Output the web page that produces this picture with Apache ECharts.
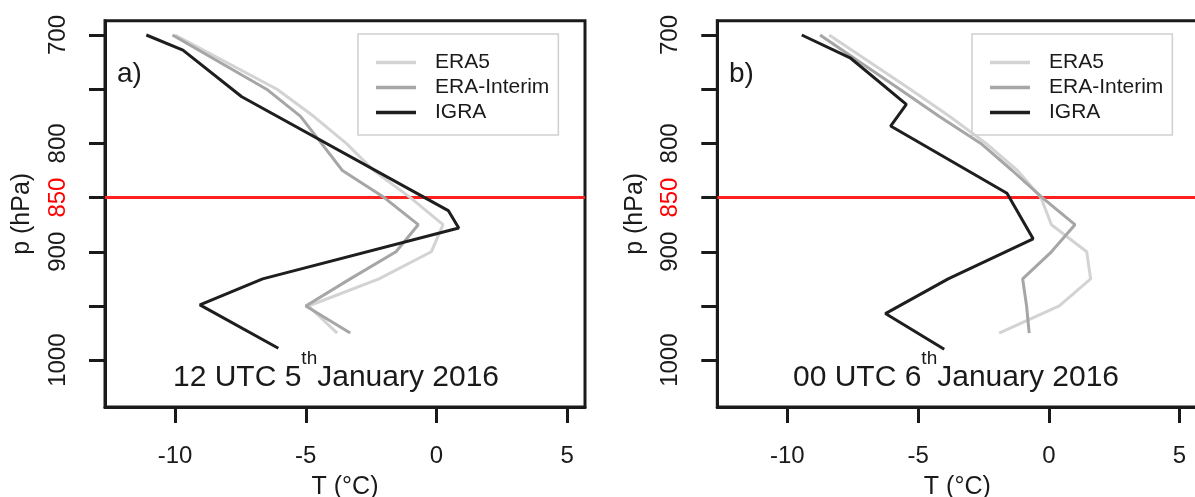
<!DOCTYPE html>
<html>
<head>
<meta charset="utf-8">
<script src="https://cdn.jsdelivr.net/npm/echarts@6/dist/echarts.min.js"></script>
<style>
  html, body { margin: 0; padding: 0; background: #fff; }
  #chart { width: 1195px; height: 497px; }
</style>
</head>
<body>
<div id="chart"></div>
<script>
var seriesNames = ['ERA5', 'ERA-Interim', 'IGRA'];
var eraLevels = [700, 750, 775, 800, 825, 850, 875, 900, 925, 950, 975];

// panel a) 12 UTC 5th January 2016
var era5A = [-10.0, -6.1, -4.7, -3.45, -2.4, -1.0, 0.25, -0.2, -2.2, -4.9, -3.8];
var eraIA = [-10.1, -6.5, -5.2, -4.4, -3.6, -2.0, -0.7, -1.55, -3.3, -5.0, -3.3];
var igraLevelsA = [700, 714, 757, 862, 878, 925, 949, 989];
var igraA = [-11.1, -9.7, -7.45, 0.45, 0.85, -6.65, -9.05, -6.05];

// panel b) 00 UTC 6th January 2016
var era5B = [-8.4, -5.3, -3.8, -2.4, -1.2, -0.3, 0.1, 1.45, 1.6, 0.4, -1.9];
var eraIB = [-8.75, -5.7, -4.2, -2.6, -1.4, -0.25, 1.0, 0.1, -1.0, -0.85, -0.75];
var igraLevelsB = [700, 721, 764, 784, 846, 888, 925, 957, 990];
var igraB = [-9.45, -7.6, -5.45, -6.05, -1.6, -0.6, -3.85, -6.25, -4.0];

var xTicks = [-10, -5, 0, 5];
var yTicks = [700, 750, 800, 850, 900, 950, 1000];
var yLabels = [700, 800, 850, 900, 1000];
var refLevel = 850;

var font = 'Liberation Sans, Arial, Helvetica, sans-serif';
var ink = '#1a1a1a';
var colors = ['#d3d3d3', '#a6a6a6', '#1e1e1e'];

function pairs(ts, ps) {
  var out = [];
  for (var i = 0; i < ts.length; i++) out.push([ts[i], ps[i]]);
  return out;
}

function makeX(g) {
  return {
    type: 'value', gridIndex: g, min: -12.68, max: 5.68,
    axisLine: { show: true, onZero: false, lineStyle: { color: ink, width: 3 } },
    axisTick: { show: true, length: 16, customValues: xTicks, lineStyle: { color: ink, width: 3 } },
    axisLabel: { customValues: xTicks, margin: 37, fontSize: 24, color: ink, fontFamily: font },
    splitLine: { show: false },
    name: 'T (°C)', nameLocation: 'middle', nameGap: 68,
    nameTextStyle: { fontSize: 25, color: ink, fontFamily: font }
  };
}

function makeY(g) {
  return {
    type: 'value', gridIndex: g, inverse: true, min: 686.8, max: 1043.2,
    axisLine: { show: true, onZero: false, lineStyle: { color: ink, width: 3 } },
    axisTick: { show: true, length: 16, customValues: yTicks, lineStyle: { color: ink, width: 3 } },
    axisLabel: {
      customValues: yLabels, rotate: 90, margin: 35, fontSize: 24, color: ink, fontFamily: font,
      formatter: function (v) { return v === refLevel ? '{r|' + v + '}' : String(v); },
      rich: { r: { color: '#ff0000', fontSize: 24, fontFamily: font } }
    },
    splitLine: { show: false },
    name: 'p (hPa)', nameLocation: 'middle', nameGap: 70,
    nameTextStyle: { fontSize: 25, color: ink, fontFamily: font }
  };
}

function makeSeries(g, e5, ei, igLev, ig) {
  var sets = [pairs(e5, eraLevels), pairs(ei, eraLevels), pairs(ig, igLev)];
  var out = [];
  for (var i = 0; i < 3; i++) {
    var s = {
      name: seriesNames[i], type: 'line', xAxisIndex: g, yAxisIndex: g,
      data: sets[i], showSymbol: false, symbol: 'none', z: 3 + i,
      color: colors[i],
      lineStyle: { color: colors[i], width: 3 },
      itemStyle: { color: colors[i] },
      animation: false
    };
    if (i === 0) {
      s.markLine = {
        silent: true, symbol: 'none', z: 1,
        label: { show: false },
        lineStyle: { color: '#ff2020', width: 3, type: 'solid' },
        data: [{ yAxis: refLevel }]
      };
    }
    out.push(s);
  }
  return out;
}

function makeLegend(left) {
  return {
    data: seriesNames, orient: 'vertical', left: left, top: 34,
    padding: [18, 9, 12, 18], itemGap: 4, itemWidth: 40, itemHeight: 3.5, icon: 'rect',
    borderColor: '#cfcfcf', borderWidth: 1.5, borderRadius: 0,
    textStyle: { fontSize: 21, lineHeight: 21, color: ink, fontFamily: font, padding: [0, 0, 0, 14] }
  };
}

// measure text so the superscript "th" can sit right after the day number
var measureCtx = document.createElement('canvas').getContext('2d');
function textWidth(str, size) {
  measureCtx.font = size + 'px Liberation Sans';
  return measureCtx.measureText(str).width;
}

function titleText(cx, pre, post) {
  var w1 = textWidth(pre, 30), ws = textWidth('th', 19), w2 = textWidth(post, 30);
  var x0 = cx - (w1 + ws + w2) / 2;
  var y = 377.5;
  var base = { fontFamily: font, fill: ink, verticalAlign: 'middle', align: 'left' };
  return [
    { type: 'text', x: x0, y: y, z: 10, style: Object.assign({ text: pre, fontSize: 30 }, base) },
    { type: 'text', x: x0 + w1, y: y - 18.5, z: 10, style: Object.assign({ text: 'th', fontSize: 19 }, base) },
    { type: 'text', x: x0 + w1 + ws, y: y, z: 10, style: Object.assign({ text: post, fontSize: 30 }, base) }
  ];
}

var chart = echarts.init(document.getElementById('chart'));
chart.setOption({
  animation: false,
  backgroundColor: '#fff',
  grid: [
    { left: 105, top: 20.7, width: 480, height: 386.3, show: true, borderColor: ink, borderWidth: 3, outerBoundsMode: 'none' },
    { left: 717.3, top: 20.7, width: 480, height: 386.3, show: true, borderColor: ink, borderWidth: 3, outerBoundsMode: 'none' }
  ],
  xAxis: [makeX(0), makeX(1)],
  yAxis: [makeY(0), makeY(1)],
  legend: [makeLegend(358), makeLegend(972)],
  series: makeSeries(0, era5A, eraIA, igraLevelsA, igraA)
    .concat(makeSeries(1, era5B, eraIB, igraLevelsB, igraB)),
  graphic: [
    { type: 'text', x: 117, y: 74, style: { text: 'a)', fontSize: 28, fontFamily: font, fill: ink, verticalAlign: 'middle' } },
    { type: 'text', x: 729, y: 74, style: { text: 'b)', fontSize: 28, fontFamily: font, fill: ink, verticalAlign: 'middle' } }
  ].concat(titleText(336, '12 UTC 5', 'January 2016'), titleText(956, '00 UTC 6', 'January 2016'))
});
</script>
</body>
</html>
